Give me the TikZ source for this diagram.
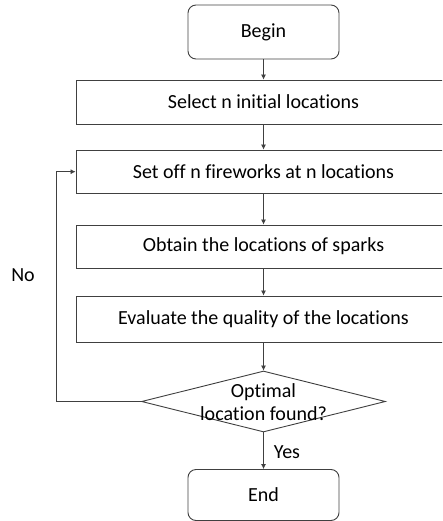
\documentclass[tikz,border=0pt]{standalone}
\usepackage{fontspec}
\setmainfont{Carlito}[Ligatures={NoCommon,NoContextual}]
\usetikzlibrary{arrows.meta,shapes.geometric}
\definecolor{linegray}{HTML}{404040}
\tikzset{
  txt/.style={font=\fontsize{20}{23}\selectfont},
  terminal/.style={draw=linegray, line width=0.9pt, rounded corners=8pt, minimum width=151pt, minimum height=54pt, inner sep=0pt, txt},
  stepbox/.style={draw=linegray, line width=0.9pt, minimum width=375pt, inner sep=0pt, txt},
  decision/.style={draw=linegray, line width=0.9pt, diamond, inner sep=0pt},
  flow/.style={draw=linegray, line width=0.7pt, -{Latex[length=5pt,width=5pt]}}
}
\begin{document}
\begin{tikzpicture}[x=1pt,y=-1pt]
\useasboundingbox (0,0) rectangle (442,521);
\clip (0,0) rectangle (442,521);
\node[terminal] (begin) at (263.5,32) {Begin};
\node[stepbox, minimum height=44pt] (select) at (263.5,102) {Select n initial locations};
\node[stepbox, minimum height=43pt] (setoff) at (263.5,171.5) {Set off n fireworks at n locations};
\node[stepbox, minimum height=43pt] (obtain) at (263.5,246.5) {Obtain the locations of sparks};
\node[stepbox, minimum height=46pt] (evaluate) at (263.5,319) {Evaluate the quality of the locations};
\node[decision, minimum width=244pt, minimum height=61pt] (opt) at (263.5,401.5) {};
\node[txt] (optA) at (263.5,392) {Optimal};
\node[txt] (optB) at (263.5,414) {location found?};
\node[terminal, minimum height=51pt] (end) at (263.5,495) {End};
\coordinate (loopA) at (56.7,401.5);
\coordinate (loopB) at (56.7,171.7);
\draw[flow] (begin) -- (select);
\draw[flow] (select) -- (setoff);
\draw[flow] (setoff) -- (obtain);
\draw[flow] (obtain) -- (evaluate);
\draw[flow] (evaluate) -- (opt);
\draw[flow] (opt) -- (end);
\node[txt] (yes) at (287,452) {Yes};
\draw[flow] (opt.west) -- (loopA) -- (loopB) -- (setoff.west |- loopB);
\node[txt] (no) at (23,275) {No};
\end{tikzpicture}
\end{document}
